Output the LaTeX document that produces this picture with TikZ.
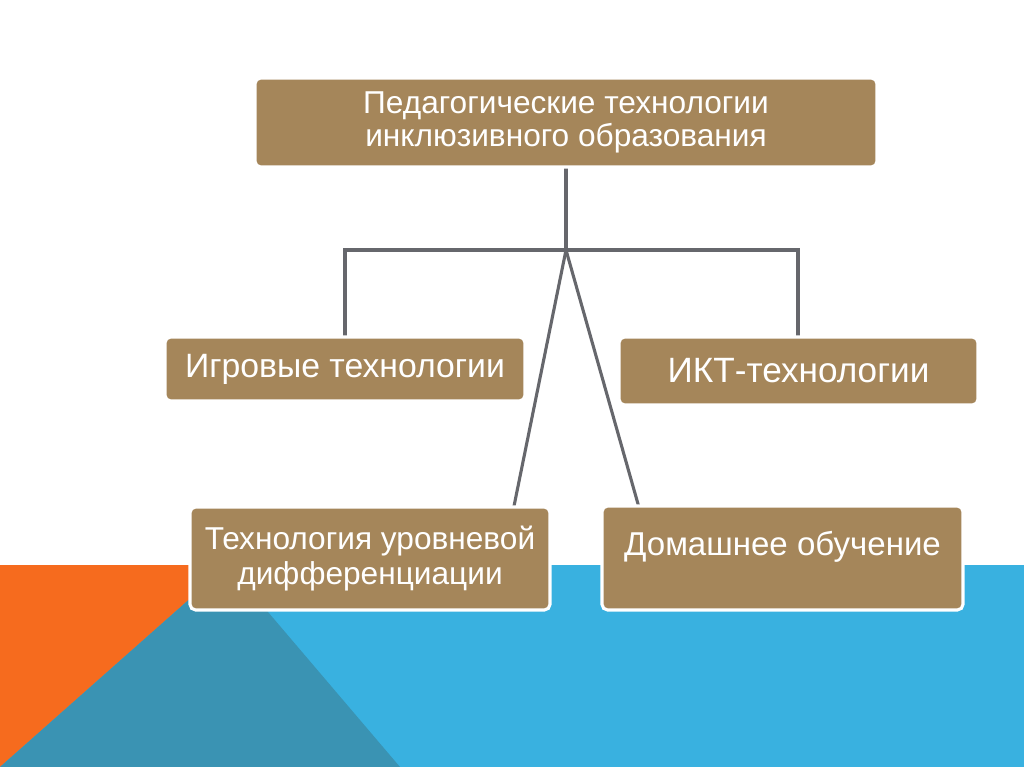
\documentclass[tikz,border=0pt]{standalone}
\usepackage{fontspec}
\setmainfont{Liberation Sans}
\usepackage{tikz}
\usetikzlibrary{positioning}

\definecolor{boxbrown}{RGB}{165,134,90}
\definecolor{linegray}{RGB}{102,103,108}
\definecolor{bandblue}{RGB}{57,177,224}
\definecolor{bandteal}{RGB}{58,147,179}
\definecolor{bandorange}{RGB}{246,107,30}

\begin{document}
\begin{tikzpicture}[
    x=0.025cm,
    y=-0.025cm,
    font=\fontsize{23.5}{25}\selectfont,
    tech/.style={
		rectangle,
		rounded corners=4pt,
		draw=white,
		line width=2.2pt,
		fill=boxbrown,
		text=white,
		align=center,
		inner sep=0pt
	},
	link/.style={
		draw=linegray,
		line width=2.2pt
	}
  ]

% // background
\fill[white] (0,0) rectangle (1024,767);
\fill[bandblue] (0,565) rectangle (1024,767);
\fill[bandorange] (0,565) -- (228,565) -- (0,767) -- cycle;
\fill[bandteal] (0,767) -- (228,565) -- (400,767) -- cycle;

% // connectors first, boxes on top
 \coordinate (hub) at (566,250);
 \coordinate (tend) at (513,511);
 \coordinate (dend) at (640,511);
 \coordinate (topend) at (566,168);
 \coordinate (lend) at (345,338);
 \coordinate (rend) at (798,338);

 \draw [link] (topend) -- (hub);
 \draw [link] (lend) |- (hub) -| (rend);
 \draw [link] (hub) -- (tend);
 \draw [link] (hub) -- (dend);

% // the boxes
 \node [tech, minimum width=622*0.025cm, minimum height=89*0.025cm,
 font=\fontsize{22.5}{24}\selectfont] (ped) at (566,122.5)
 {Педагогические технологии\\инклюзивного образования};

 \node [tech, minimum width=360*0.025cm, minimum height=64*0.025cm,
 font=\fontsize{24}{25}\selectfont] (igr) at (345,369)
 {Игровые технологии};
 \node [tech, minimum width=359*0.025cm, minimum height=68*0.025cm,
 font=\fontsize{25}{25}\selectfont] (ikt) at (798.5,371)
 {ИКТ-технологии};

 \node [tech, minimum width=360*0.025cm, minimum height=103*0.025cm,
 font=\fontsize{22.5}{25}\selectfont] (lvl) at (370,558.5)
 {Технология уровневой\\дифференциации};
 \node [tech, minimum width=361*0.025cm, minimum height=104*0.025cm,
 text depth=0.75cm] (home) at (782.5,558)
 {Домашнее обучение};

\end{tikzpicture}
\end{document}
